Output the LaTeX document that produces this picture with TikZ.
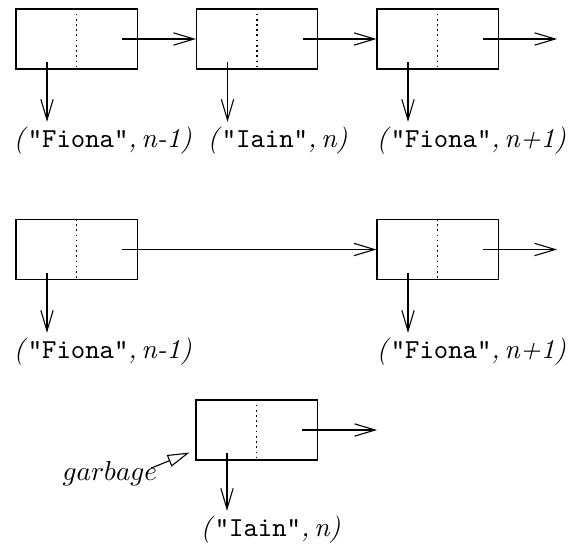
\documentclass[tikz,border=0pt]{standalone}
\usepackage{tikz}
\usetikzlibrary{arrows.meta, positioning}

\tikzset{
    cell/.style={draw, minimum width=44.2pt, minimum height=21.9pt, inner sep=0pt},
    pair/.style={anchor=base west, inner sep=1.5pt},
    link/.style={-{Straight Barb[length=7.5pt, width=4.5pt]}},
    split/.style={dash pattern=on 0.6pt off 1.3pt},
}
\newcommand{\pairlabel}[2]{\textit{(}\texttt{"#1"}\textit{,\,#2)}}

\begin{document}
\begin{tikzpicture}[x=0.365pt, y=-0.365pt]
        \useasboundingbox (0,0) rectangle (569,549);

        % Before deletion
        \foreach \x/\y/\i in {76.5/39/1, 257/39/2, 437.5/39/3, 76.5/249.5/4, 437.5/249.5/5, 256.5/430/6} {
            \node[cell] (c\i) at (\x, \y) {};
            \draw[split] (c\i.north) -- (c\i.south);
            \coordinate (t\i) at ([shift={(45.5,0)}]c\i.center);
            \coordinate (d\i) at ([shift={(-29.5,23)}]c\i.center);
        }
        \coordinate (e1) at (557, 39);
        \draw[link] (t1) -- (c2.west);
        \draw[link] (t2) -- (c3.west);
        \draw[link] (t3) -- (e1);

        \node[pair] (v1) at (9, 147) {\pairlabel{Fiona}{n-1}};
        \node[pair] (v2) at (203, 147) {\pairlabel{Iain}{n}};
        \node[pair] (v3) at (372, 147) {\pairlabel{Fiona}{n+1}};

        % After deletion
        \coordinate (e2) at (557, 249.5);
        \draw[link] (t4) -- (c5.west);
        \draw[link] (t5) -- (e2);

        \node[pair] (v4) at (9, 358) {\pairlabel{Fiona}{n-1}};
        \node[pair] (v5) at (372, 358) {\pairlabel{Fiona}{n+1}};

        % Unlinked cell
        \coordinate (e3) at (377, 430);
        \draw[link] (t6) -- (e3);

        \node[pair] (v6) at (196, 536) {\pairlabel{Iain}{n}};
        \node[pair] (gb) at (58, 480) {$garbage$};
        \draw[-{Triangle[open, length=8pt, width=4.5pt]}] ([shift={(-11,-5)}]gb.east) -- ([shift={(-6,-8)}]c6.south west);

        % Pointers to the values
        \foreach \i in {1,...,6} {
            \draw[link] (d\i) -- (d\i |- v\i.north);
        }
    \end{tikzpicture}
\end{document}
